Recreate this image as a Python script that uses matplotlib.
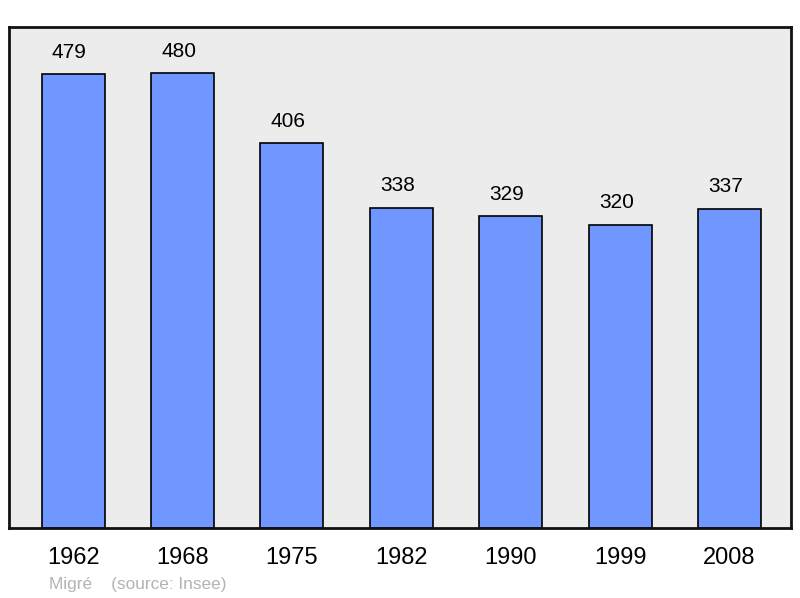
import matplotlib.pyplot as plt

plt.rcParams['font.family'] = ['Liberation Sans', 'DejaVu Sans']

# 数据
years = ['1962', '1968', '1975', '1982', '1990', '1999', '2008']
population = [479, 480, 406, 338, 329, 320, 337]

fig = plt.figure(figsize=(8, 5.98), dpi=100)
ax = fig.add_axes([9 / 800, 70 / 598, 782 / 800, 501 / 598])
ax.set_facecolor('#ececec')

x = list(range(len(years)))
ax.bar(x, population, width=0.576, color='#7096ff', edgecolor='black', linewidth=1.2, zorder=2)

for xi, v in zip(x, population):
    ax.text(xi - 0.035, v + 23, str(v), ha='center', va='center', fontsize=15)

ax.set_xlim(-0.586, 6.563)
ax.set_ylim(0, 528.5)
ax.set_yticks([])
ax.set_xticks(x)
ax.set_xticklabels(years, fontsize=17)
ax.tick_params(axis='x', length=0, pad=14)
for s in ax.spines.values():
    s.set_linewidth(2)
    s.set_color('#111111')

fig.text(49 / 800, 1 - 584 / 598, 'Migré    (source: Insee)', color='#b3b3b3',
         fontsize=12.4, ha='left', va='center')

plt.savefig('out.png', dpi=100)
